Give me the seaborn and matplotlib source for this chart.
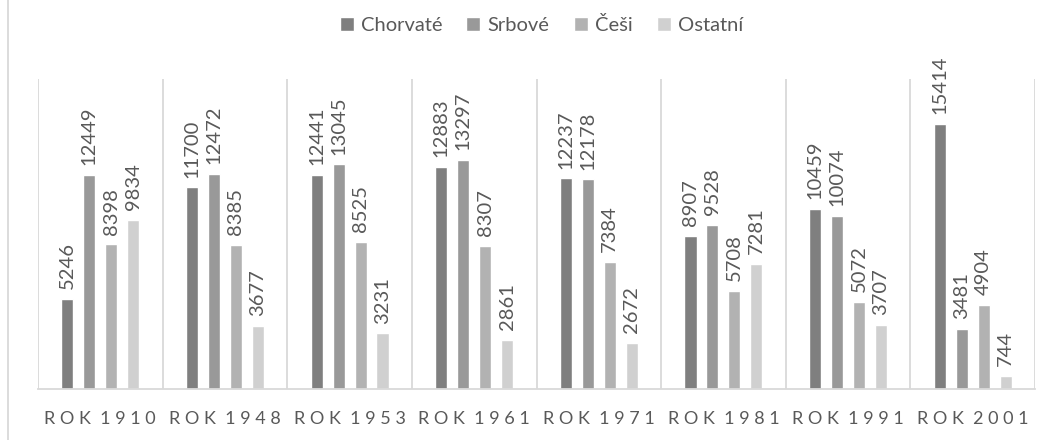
import pandas as pd
import seaborn as sns
import matplotlib.pyplot as plt
from matplotlib.lines import Line2D

# data
roky = ['ROK 1910', 'ROK 1948', 'ROK 1953', 'ROK 1961',
        'ROK 1971', 'ROK 1981', 'ROK 1991', 'ROK 2001']
skupiny = ['Chorvaté', 'Srbové', 'Češi', 'Ostatní']
chorvate = [5246, 11700, 12441, 12883, 12237, 8907, 10459, 15414]
srbove = [12449, 12472, 13045, 13297, 12178, 9528, 10074, 3481]
cesi = [8398, 8385, 8525, 8307, 7384, 5708, 5072, 4904]
ostatni = [9834, 3677, 3231, 2861, 2672, 7281, 3707, 744]

barvy = ['#7f7f7f', '#999999', '#b2b2b2', '#d0d0d0']
text_barva = '#595959'
cara_barva = '#d9d9d9'

# long table for seaborn
rows = []
for name, vals in zip(skupiny, [chorvate, srbove, cesi, ostatni]):
    for rok, v in zip(roky, vals):
        rows.append({'rok': rok, 'skupina': name, 'pocet': v})
df = pd.DataFrame(rows)

sns.set_theme(style='white')
plt.rcParams['font.family'] = ['Lato', 'DejaVu Sans']

fig = plt.figure(figsize=(10.49, 4.40), dpi=100)
ax = fig.add_axes([38 / 1049, 51 / 440, (1035 - 38) / 1049, 310 / 440])

sns.barplot(data=df, x='rok', y='pocet', hue='skupina', hue_order=skupiny,
            palette=barvy, width=0.705, gap=0.45, errorbar=None, ax=ax,
            saturation=1)

for c in ax.containers:
    ax.bar_label(c, fmt='%d', rotation=90, padding=7, fontsize=14.5,
                 color=text_barva)

# category separators
for i in range(len(roky) + 1):
    ax.axvline(i - 0.5, color=cara_barva, lw=1.3, zorder=0)

ax.set_xlim(-0.5, len(roky) - 0.5)
ax.set_ylim(0, 18000)
ax.set_yticks([])
ax.set_xlabel('')
ax.set_ylabel('')
for s in ['top', 'left', 'right']:
    ax.spines[s].set_visible(False)
ax.spines['bottom'].set_color(cara_barva)
ax.spines['bottom'].set_linewidth(1.3)

# spaced-out tick labels like the original
popisky = ['  '.join(' '.join(w) for w in r.split()) for r in roky]
ax.set_xticks(range(len(roky)))
ax.set_xticklabels(popisky, fontsize=13, color=text_barva)
ax.tick_params(axis='x', length=0, pad=16)

handles, labels = ax.get_legend_handles_labels()
ax.get_legend().remove()
fig.legend(handles, labels, loc='center', bbox_to_anchor=(0.516, 0.943),
           ncol=4, frameon=False, fontsize=14.5, labelcolor=text_barva,
           handlelength=0.7, handleheight=0.7, handletextpad=0.35,
           columnspacing=1.2)

# left frame edge of the original chart
fig.add_artist(Line2D([8 / 1049, 8 / 1049], [0, 1], color=cara_barva,
                      lw=1.3, transform=fig.transFigure))

fig.savefig('out.png', dpi=100)
